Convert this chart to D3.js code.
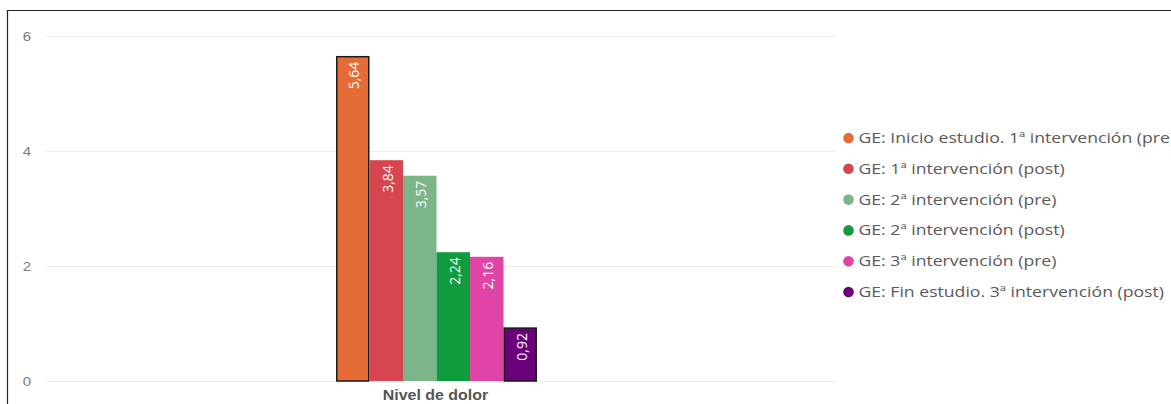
<!DOCTYPE html>
<html>
<head>
<meta charset="utf-8">
<script src="https://cdn.jsdelivr.net/npm/d3@7"></script>
<style>
  html, body { margin: 0; padding: 0; background: #fff; }
  svg { display: block; font-family: "Open Sans", "Noto Sans", sans-serif; }
</style>
</head>
<body>
<svg id="chart" width="1171" height="404"></svg>
<script>
// Pain level by study phase (experimental group)
const categories = ["Nivel de dolor"];
const seriesNames = [
  "GE: Inicio estudio. 1ª intervención (pre)",
  "GE: 1ª intervención (post)",
  "GE: 2ª intervención (pre)",
  "GE: 2ª intervención (post)",
  "GE: 3ª intervención (pre)",
  "GE: Fin estudio. 3ª intervención (post)"
];
const seriesValues = [5.64, 3.84, 3.57, 2.24, 2.16, 0.92];
const seriesColors = ["#E66C37", "#D64550", "#7DB58A", "#109B3F", "#E044A7", "#6B007B"];
const outlined = [true, false, false, false, false, true];
const yTicks = [0, 2, 4, 6];

const svg = d3.select("#chart");

// frame lines (top and left)
svg.append("line").attr("x1", 7).attr("x2", 1171).attr("y1", 10.5).attr("y2", 10.5)
  .attr("stroke", "#222").attr("stroke-width", 1.2);
svg.append("line").attr("x1", 7.5).attr("x2", 7.5).attr("y1", 10).attr("y2", 404)
  .attr("stroke", "#222").attr("stroke-width", 1.2);

const plot = { left: 40, right: 833, top: 36, bottom: 381 };

const y = d3.scaleLinear().domain([0, 6]).range([plot.bottom, plot.top]);

const x0 = d3.scaleBand().domain(categories)
  .range([plot.left, plot.right]).paddingOuter(1.473).paddingInner(0);
const x1 = d3.scaleBand().domain(d3.range(seriesValues.length))
  .range([0, x0.bandwidth()]).padding(0);

// gridlines
svg.append("g").selectAll("line").data(yTicks).join("line")
  .attr("x1", plot.left + 5).attr("x2", plot.right + 3)
  .attr("y1", d => y(d) + 0.5).attr("y2", d => y(d) + 0.5)
  .attr("stroke", "#efefef").attr("stroke-width", 1);

// y axis (labels slightly widened, like the rest of the chart text)
const yAxis = d3.axisLeft(y).tickValues(yTicks).tickSize(0).tickPadding(0).tickFormat(d3.format("d"));
const yg = svg.append("g").attr("transform", `translate(27,0)`).call(yAxis);
yg.select(".domain").remove();
yg.selectAll(".tick text")
  .attr("x", null).attr("dy", null)
  .attr("transform", "translate(0,4) scale(1.2,1)")
  .attr("fill", "#7a7a7a").attr("font-size", 12.5).attr("text-anchor", "middle");

// x axis label
const xAxis = d3.axisBottom(x0).tickSize(0).tickPadding(0);
const xg = svg.append("g").attr("transform", `translate(-1,${plot.bottom})`).call(xAxis);
xg.select(".domain").remove();
xg.selectAll(".tick text")
  .attr("y", null).attr("dy", null)
  .attr("transform", "translate(0,19) scale(1.1,1)")
  .attr("fill", "#555").attr("font-size", 14.5).attr("font-weight", "bold");

// bars
const group = svg.append("g").selectAll("g").data(categories).join("g")
  .attr("transform", d => `translate(${x0(d)},0)`);

const barData = seriesValues.map((v, i) => ({ i, v }));

group.selectAll("rect").data(barData).join("rect")
  .attr("x", d => x1(d.i) + (outlined[d.i] ? 0.75 : 0))
  .attr("y", d => y(d.v))
  .attr("width", d => x1.bandwidth() - (outlined[d.i] ? 1.5 : 0))
  .attr("height", d => y(0) - y(d.v))
  .attr("fill", d => seriesColors[d.i])
  .attr("stroke", d => outlined[d.i] ? "#1a1a1a" : "none")
  .attr("stroke-width", 1.5);

// value labels (rotated, inside the top of each bar)
group.selectAll("text.val").data(barData).join("text")
  .attr("class", "val")
  .attr("transform", d => `translate(${x1(d.i) + x1.bandwidth() / 2 + 6.5},${y(d.v) + 5}) rotate(-90)`)
  .attr("text-anchor", "end")
  .attr("fill", "#fff")
  .attr("font-size", 14)
  .text(d => d3.format(".2f")(d.v).replace(".", ","));

// legend
const legend = svg.append("g").attr("transform", "translate(848.5,138)");
const items = legend.selectAll("g").data(seriesNames).join("g")
  .attr("transform", (d, i) => `translate(0,${i * 30.8})`);
items.append("circle").attr("r", 5.3).attr("cx", 0).attr("cy", 0)
  .attr("fill", (d, i) => seriesColors[i]);
items.append("text")
  .attr("transform", "translate(10,5) scale(1.26,1)")
  .attr("fill", "#5a5a5a").attr("font-size", 14)
  .text(d => d);
</script>
</body>
</html>
